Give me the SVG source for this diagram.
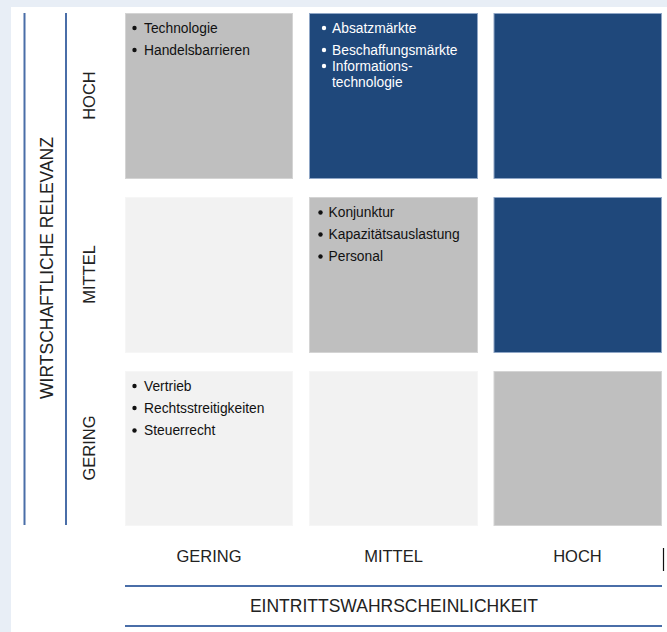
<svg xmlns="http://www.w3.org/2000/svg" width="667" height="632" viewBox="0 0 667 632">
<style>
.cell{stroke-width:1}
.gray{fill:#bfbfbf;stroke:#d4d4d4}
.light{fill:#f2f2f2;stroke:#f6f6f6}
.navy{fill:#1f487b;stroke:#8fa6c6}
.t{font-family:"Liberation Sans",Arial,sans-serif;font-size:13.8px;fill:#111}
.tw{font-family:"Liberation Sans",Arial,sans-serif;font-size:13.8px;fill:#fff}
.ax{font-family:"Liberation Sans",Arial,sans-serif;font-size:16.5px;fill:#222;text-anchor:middle}
.axb{font-size:17.5px}
.axl{stroke:#4a6ea8;stroke-width:2}
</style>
<rect x="0" y="0" width="667" height="632" fill="#e8eef6"/>
<rect x="11" y="7" width="656" height="625" fill="#ffffff"/>
<g id="axes">
<line class="axl" x1="24.5" y1="13" x2="24.5" y2="525"/>
<line class="axl" x1="66" y1="13" x2="66" y2="525"/>
<line class="axl" x1="125" y1="586" x2="662" y2="586"/>
<line class="axl" x1="125" y1="626" x2="662" y2="626"/>
<line x1="663.5" y1="548" x2="663.5" y2="571" stroke="#111" stroke-width="1.2"/>
<text class="ax axb" transform="translate(52.5,268) rotate(-90)">WIRTSCHAFTLICHE RELEVANZ</text>
<text class="ax" transform="translate(94.5,95.5) rotate(-90)">HOCH</text>
<text class="ax" transform="translate(94.5,274.5) rotate(-90)">MITTEL</text>
<text class="ax" transform="translate(94.5,448) rotate(-90)">GERING</text>
<text class="ax" x="209" y="562">GERING</text>
<text class="ax" x="393.5" y="562">MITTEL</text>
<text class="ax" x="577.5" y="562">HOCH</text>
<text class="ax axb" x="394" y="612">EINTRITTSWAHRSCHEINLICHKEIT</text>
</g>
<g id="cell-r1c1">
<rect class="cell gray" x="125.5" y="13.5" width="167" height="165"/>
<circle cx="134.5" cy="28" r="2.2" fill="#111"/>
<text class="t" x="144" y="32.5">Technologie</text>
<circle cx="134.5" cy="50" r="2.2" fill="#111"/>
<text class="t" x="144" y="54.5">Handelsbarrieren</text>
</g>
<g id="cell-r1c2">
<rect class="cell navy" x="309.5" y="13.5" width="168" height="165"/>
<circle cx="324" cy="28" r="2.2" fill="#fff"/>
<text class="tw" x="332" y="32.5">Absatzmärkte</text>
<circle cx="324" cy="50" r="2.2" fill="#fff"/>
<text class="tw" x="332" y="54.5">Beschaffungsmärkte</text>
<circle cx="324" cy="66" r="2.2" fill="#fff"/>
<text class="tw" x="332" y="70.5">Informations-</text>
<text class="tw" x="332" y="87">technologie</text>
</g>
<g id="cell-r1c3">
<rect class="cell navy" x="494" y="13.5" width="167.5" height="165"/>
</g>
<g id="cell-r2c1">
<rect class="cell light" x="125.5" y="197.5" width="167" height="155"/>
</g>
<g id="cell-r2c2">
<rect class="cell gray" x="309.5" y="197.5" width="168" height="155"/>
<circle cx="320.5" cy="212.5" r="2.2" fill="#111"/>
<text class="t" x="328.5" y="217">Konjunktur</text>
<circle cx="320.5" cy="234.5" r="2.2" fill="#111"/>
<text class="t" x="328.5" y="239">Kapazitätsauslastung</text>
<circle cx="320.5" cy="256.5" r="2.2" fill="#111"/>
<text class="t" x="328.5" y="261">Personal</text>
</g>
<g id="cell-r2c3">
<rect class="cell navy" x="494" y="197.5" width="167.5" height="155"/>
</g>
<g id="cell-r3c1">
<rect class="cell light" x="125.5" y="371.5" width="167" height="154"/>
<circle cx="134.5" cy="386" r="2.2" fill="#111"/>
<text class="t" x="144" y="390.5">Vertrieb</text>
<circle cx="134.5" cy="408" r="2.2" fill="#111"/>
<text class="t" x="144" y="412.5">Rechtsstreitigkeiten</text>
<circle cx="134.5" cy="430.5" r="2.2" fill="#111"/>
<text class="t" x="144" y="435">Steuerrecht</text>
</g>
<g id="cell-r3c2">
<rect class="cell light" x="309.5" y="371.5" width="168" height="154"/>
</g>
<g id="cell-r3c3">
<rect class="cell gray" x="494" y="371.5" width="167.5" height="154"/>
</g>
</svg>
